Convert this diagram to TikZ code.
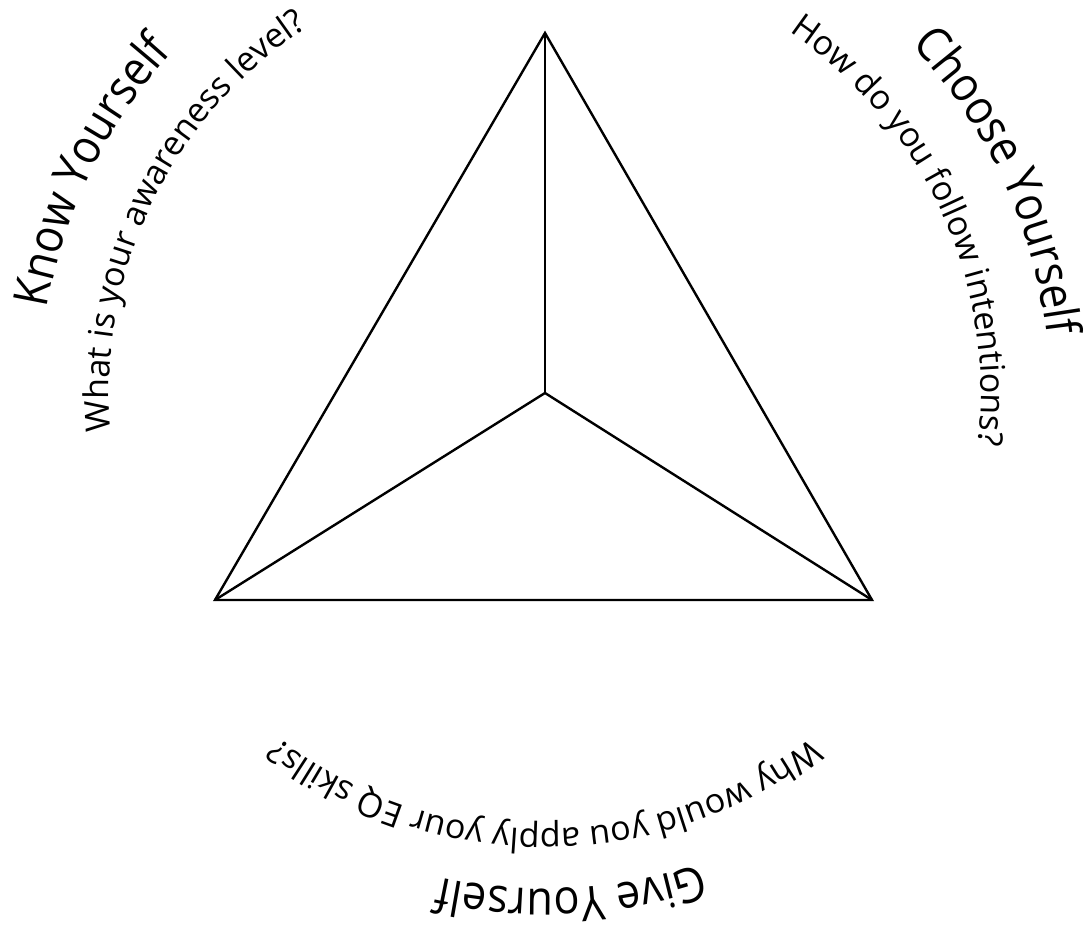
\documentclass[tikz,border=0pt]{standalone}
\usepackage{fontspec}
\setmainfont{Open Sans}
\newfontfamily\headfam[FakeStretch=0.9]{Open Sans}
\usetikzlibrary{decorations.text}
\newcommand\askfont{\fontsize{17}{20}\selectfont}
\newcommand\headfont{\headfam\fontsize{24}{28}\selectfont}

\begin{document}
\begin{tikzpicture}[
  x=0.5pt, y=0.5pt,
  edge/.style={line width=1.2pt, line join=miter},
  curved/.style={decorate, decoration={text along path, text align=center, text={#1}}}
]
\useasboundingbox (0,0) rectangle (1092,929);
\coordinate (hub) at (545,536);
\coordinate (apex) at (545,896);
\coordinate (left) at (215,329);
\coordinate (right) at (872,329);

% triangle and spokes
\draw[edge] (apex) -- (left) -- (right) -- cycle;
\draw[edge] (hub) -- (apex);
\draw[edge] (hub) -- (left);
\draw[edge] (hub) -- (right);

% headings, outer ring
\path[curved={|\headfont|Know Yourself}] ([shift={(200:505)}]hub) arc[start angle=200, end angle=108, radius=505];
\path[curved={|\headfont|Choose Yourself}] ([shift={(71:505)}]hub) arc[start angle=71, end angle=-21, radius=505];
\path[curved={|\headfont|Give Yourself}] ([shift={(-41:496)}]hub) arc[start angle=-41, end angle=-133, radius=496];

% questions, inner ring
\path[curved={|\askfont|What is your awareness level?}] ([shift={(209:436)}]hub) arc[start angle=209, end angle=99, radius=436];
\path[curved={|\askfont|How do you follow intentions?}] ([shift={(79.5:436)}]hub) arc[start angle=79.5, end angle=-30.5, radius=436];
\path[curved={|\askfont|Why would you apply your EQ skills?}] ([shift={(-35:436)}]hub) arc[start angle=-35, end angle=-145, radius=436];
\end{tikzpicture}
\end{document}
